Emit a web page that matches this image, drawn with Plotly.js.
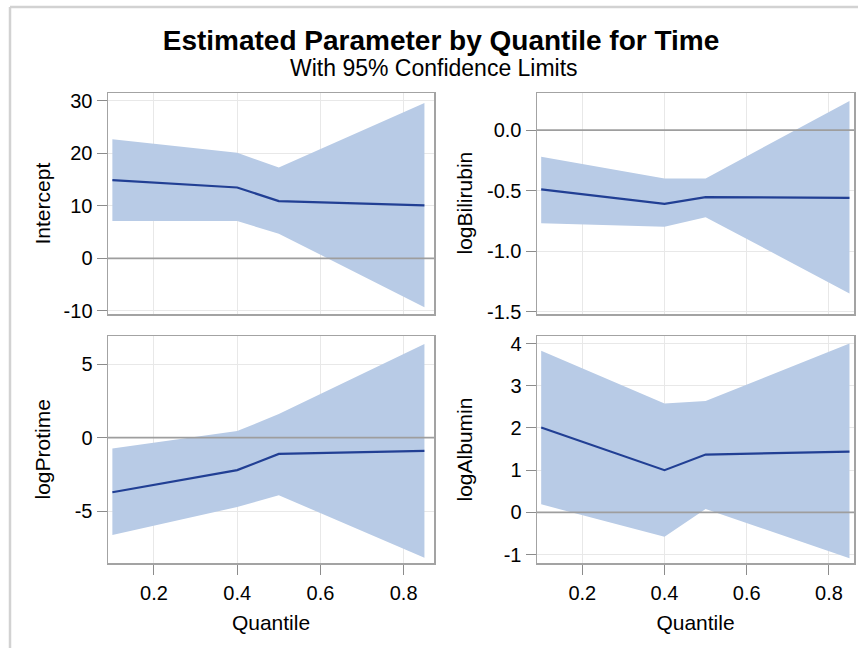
<!DOCTYPE html>
<html>
<head>
<meta charset="utf-8">
<script src="https://cdn.plot.ly/plotly-3.0.1.min.js"></script>
<style>html,body{margin:0;padding:0;background:#fff;}#chart{width:858px;height:648px;}</style>
</head>
<body>
<div id="chart"></div>
<script>
// ---- data ----
const quantiles = [0.1, 0.4, 0.5, 0.85];

const interceptEst   = [14.9, 13.5, 10.9, 10.1];
const interceptUpper = [22.7, 20.1, 17.3, 29.6];
const interceptLower = [7.1, 7.1, 4.7, -9.3];

const bilirubinEst   = [-0.49, -0.61, -0.555, -0.56];
const bilirubinUpper = [-0.22, -0.40, -0.40, 0.24];
const bilirubinLower = [-0.77, -0.80, -0.72, -1.35];

const protimeEst   = [-3.7, -2.2, -1.1, -0.9];
const protimeUpper = [-0.73, 0.45, 1.6, 6.36];
const protimeLower = [-6.6, -4.7, -3.9, -8.15];

const albuminEst   = [2.01, 1.0, 1.37, 1.44];
const albuminUpper = [3.83, 2.58, 2.64, 4.0];
const albuminLower = [0.19, -0.58, 0.08, -1.09];

const xTickVals = [0.2, 0.4, 0.6, 0.8];
const xTickText = ['0.2', '0.4', '0.6', '0.8'];
const interceptTickVals = [-10, 0, 10, 20, 30];
const interceptTickText = ['-10', '0', '10', '20', '30'];
const bilirubinTickVals = [-1.5, -1.0, -0.5, 0.0];
const bilirubinTickText = ['-1.5', '-1.0', '-0.5', '0.0'];
const protimeTickVals = [-5, 0, 5];
const protimeTickText = ['-5', '0', '5'];
const albuminTickVals = [-1, 0, 1, 2, 3, 4];
const albuminTickText = ['-1', '0', '1', '2', '3', '4'];

const panelNames = ['Intercept', 'logBilirubin', 'logProtime', 'logAlbumin'];

// ---- styling ----
const FONT = '"Liberation Sans", Arial, Helvetica, sans-serif';
const W = 858, H = 648;
const BAND = '#b8cbe6';
const FIT = '#213f94';
const FRAME = '#a3a3a3';
const GRID = '#e8e8e8';

const panels = [
  {est: interceptEst, up: interceptUpper, lo: interceptLower, tv: interceptTickVals, tt: interceptTickText,
   px: [108, 434], py: [93, 314], xr: [0.0895, 0.873], yr: [-10.6, 31.5], bottom: false, titleX: 42},
  {est: bilirubinEst, up: bilirubinUpper, lo: bilirubinLower, tv: bilirubinTickVals, tt: bilirubinTickText,
   px: [537, 854], py: [93, 314], xr: [0.0898, 0.861], yr: [-1.52, 0.306], bottom: false, titleX: 464},
  {est: protimeEst, up: protimeUpper, lo: protimeLower, tv: protimeTickVals, tt: protimeTickText,
   px: [108, 434], py: [336, 563], xr: [0.0895, 0.873], yr: [-8.5, 6.9], bottom: true, titleX: 42},
  {est: albuminEst, up: albuminUpper, lo: albuminLower, tv: albuminTickVals, tt: albuminTickText,
   px: [537, 854], py: [336, 563], xr: [0.0898, 0.861], yr: [-1.2, 4.18], bottom: true, titleX: 464}
];

const traces = [];
const layout = {
  width: W, height: H,
  margin: {l: 0, r: 0, t: 0, b: 0},
  paper_bgcolor: '#ffffff', plot_bgcolor: '#ffffff',
  showlegend: false,
  font: {family: FONT, color: '#000000', size: 20},
  title: {
    text: '<b>Estimated Parameter by Quantile for Time</b>',
    font: {family: FONT, size: 28, color: '#000000'},
    xref: 'container', yref: 'container',
    x: 441 / W, xanchor: 'center',
    y: 1 - 40 / H, yanchor: 'middle'
  },
  annotations: [{
    text: 'With 95% Confidence Limits', showarrow: false,
    xref: 'paper', yref: 'paper', x: 434 / W, y: 1 - 68 / H,
    xanchor: 'center', yanchor: 'middle',
    font: {family: FONT, size: 23, color: '#000000'}
  }],
  shapes: [
    {type: 'line', xref: 'paper', yref: 'paper', x0: 10 / W, x1: 1.02, y0: 1 - 7 / H, y1: 1 - 7 / H,
     line: {color: '#d2d2d2', width: 2.5}, layer: 'below'},
    {type: 'line', xref: 'paper', yref: 'paper', x0: 10 / W, x1: 10 / W, y0: 1 - 7 / H, y1: -0.02,
     line: {color: '#d2d2d2', width: 2.5}, layer: 'below'}
  ]
};

panels.forEach((p, i) => {
  const n = i + 1;
  const xa = 'x' + (n === 1 ? '' : n), ya = 'y' + (n === 1 ? '' : n);
  const xk = 'xaxis' + (n === 1 ? '' : n), yk = 'yaxis' + (n === 1 ? '' : n);

  traces.push({x: quantiles, y: p.lo, xaxis: xa, yaxis: ya, type: 'scatter', mode: 'lines',
               line: {width: 0, color: BAND}, hoverinfo: 'skip'});
  traces.push({x: quantiles, y: p.up, xaxis: xa, yaxis: ya, type: 'scatter', mode: 'lines',
               fill: 'tonexty', fillcolor: BAND, line: {width: 0, color: BAND}, hoverinfo: 'skip'});
  traces.push({x: quantiles, y: p.est, xaxis: xa, yaxis: ya, type: 'scatter', mode: 'lines',
               line: {width: 2.2, color: FIT}, name: panelNames[i]});

  layout[xk] = {
    domain: [p.px[0] / W, p.px[1] / W], range: p.xr, anchor: ya,
    tickmode: 'array', tickvals: xTickVals, ticktext: xTickText,
    showticklabels: p.bottom, ticks: p.bottom ? 'outside' : '', ticklen: 10, tickcolor: '#8c8c8c', tickwidth: 1,
    ticklabelstandoff: 1,
    showgrid: true, gridcolor: GRID, gridwidth: 1, zeroline: false,
    showline: true, linecolor: FRAME, linewidth: 1.5, mirror: true,
    tickfont: {family: FONT, size: 20, color: '#000000'},
    title: p.bottom ? {text: 'Quantile', font: {family: FONT, size: 21, color: '#000000'}, standoff: 13} : {text: ''},
    fixedrange: true
  };
  layout[yk] = {
    domain: [1 - p.py[1] / H, 1 - p.py[0] / H], range: p.yr, anchor: xa,
    tickmode: 'array', tickvals: p.tv, ticktext: p.tt,
    ticks: 'outside', ticklen: 10, tickcolor: '#8c8c8c', tickwidth: 1,
    ticklabelstandoff: 0,
    showgrid: true, gridcolor: GRID, gridwidth: 1, zeroline: false,
    showline: true, linecolor: FRAME, linewidth: 1.5, mirror: true,
    tickfont: {family: FONT, size: 20, color: '#000000'},
    fixedrange: true
  };

  // reference line at zero, drawn above the band
  layout.shapes.push({type: 'line', xref: xa + ' domain', yref: ya, x0: 0, x1: 1, y0: 0, y1: 0,
                      line: {color: '#9e9e9e', width: 1.8}, layer: 'above'});

  layout.annotations.push({
    text: panelNames[i], showarrow: false, textangle: -90,
    xref: 'paper', yref: 'paper', x: p.titleX / W, y: 1 - ((p.py[0] + p.py[1]) / 2) / H,
    xanchor: 'center', yanchor: 'middle',
    font: {family: FONT, size: 21, color: '#000000'}
  });
});

Plotly.newPlot('chart', traces, layout, {displayModeBar: false, staticPlot: true});
</script>
</body>
</html>
